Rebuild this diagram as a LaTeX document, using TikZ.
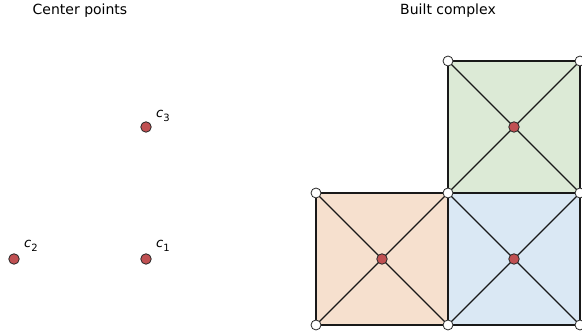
\documentclass[tikz,border=0pt]{standalone}
\usepackage{fontspec}
\setmainfont{DejaVu Sans}
\pgfdeclarelayer{bg}
\pgfdeclarelayer{fills}
\pgfsetlayers{fills,bg,main}
\definecolor{ptred}{RGB}{192,80,82}
\definecolor{cOrange}{RGB}{246,224,206}
\definecolor{cGreen}{RGB}{220,234,214}
\definecolor{cBlue}{RGB}{218,232,244}
\tikzset{
  center/.style={circle,draw=black!85,fill=ptred,line width=0.8pt,inner sep=0pt,minimum size=10.5pt},
  vertex/.style={circle,draw=black!85,fill=white,line width=0.8pt,inner sep=0pt,minimum size=10pt},
  edge/.style={line width=1.1pt,black!90},
  title/.style={font=\fontsize{14}{16}\selectfont,inner sep=0pt},
  lab/.style={anchor=base west,inner sep=0pt,font=\fontsize{13}{15}\selectfont}
}
\newcommand{\clab}[1]{\textit{c}\raisebox{-3.5pt}{\fontsize{10}{12}\selectfont #1}}
\begin{document}
\begin{tikzpicture}[x=1pt,y=-1pt]
\useasboundingbox (0,0) rectangle (582,336);
\clip (0,0) rectangle (582,336);
\node[title] (t1) at (80,11) {Center points};
\node[title] (t2) at (448,11) {Built complex};
% left panel
\node[center] (c1) at (146,259) {};
\node[center] (c2) at (14,259) {};
\node[center] (c3) at (146,127) {};
\node[lab] (l1) at (156,248) {\clab{1}};
\node[lab] (l2) at (24,248) {\clab{2}};
\node[lab] (l3) at (156,118) {\clab{3}};
% right panel vertices
\node[vertex] (a1) at (316,193) {};
\node[vertex] (a2) at (448,193) {};
\node[vertex] (a3) at (580,193) {};
\node[vertex] (b1) at (316,325) {};
\node[vertex] (b2) at (448,325) {};
\node[vertex] (b3) at (580,325) {};
\node[vertex] (g1) at (448,61) {};
\node[vertex] (g2) at (580,61) {};
\node[center] (m1) at (382,259) {};
\node[center] (m2) at (514,259) {};
\node[center] (m3) at (514,127) {};
\begin{pgfonlayer}{fills}
\fill[cOrange] (a1.center) rectangle (b2.center);
\fill[cBlue] (a2.center) rectangle (b3.center);
\fill[cGreen] (g1.center) rectangle (a3.center);
\end{pgfonlayer}
\begin{pgfonlayer}{bg}
\draw[edge] (a1.center) -- (a2.center) -- (a3.center);
\draw[edge] (b1.center) -- (b2.center) -- (b3.center);
\draw[edge] (g1.center) -- (g2.center);
\draw[edge] (a1.center) -- (b1.center);
\draw[edge] (g1.center) -- (a2.center) -- (b2.center);
\draw[edge] (g2.center) -- (a3.center) -- (b3.center);
\foreach \c/\p/\q/\r/\s in {m1/a1/a2/b1/b2, m2/a2/a3/b2/b3, m3/g1/g2/a2/a3}{
  \draw[edge] (\c.center) -- (\p.center);
  \draw[edge] (\c.center) -- (\q.center);
  \draw[edge] (\c.center) -- (\r.center);
  \draw[edge] (\c.center) -- (\s.center);
}
\end{pgfonlayer}
\end{tikzpicture}
\end{document}
